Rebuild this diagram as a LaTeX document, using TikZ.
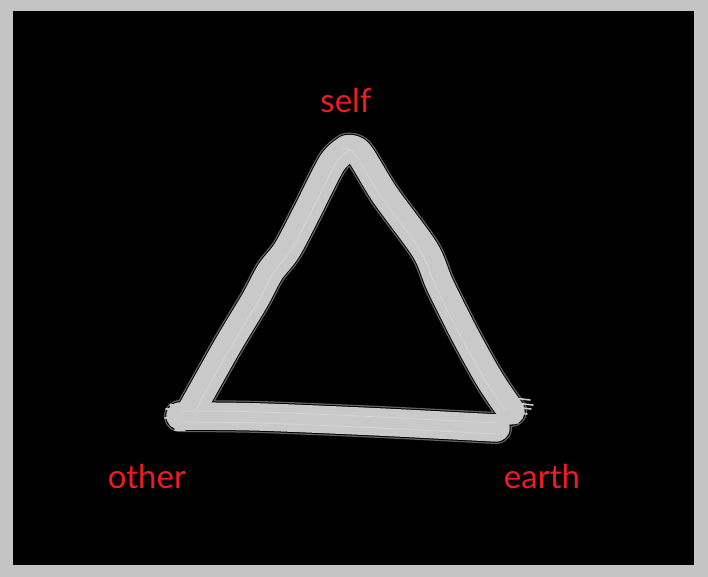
\documentclass[tikz,border=0pt]{standalone}
\usepackage{fontspec}
\setmainfont{Lato}
\definecolor{frame}{RGB}{196,196,196}
\definecolor{brush}{RGB}{201,201,201}
\definecolor{brushedge}{RGB}{100,100,100}
\definecolor{labelred}{RGB}{237,28,36}
\tikzset{
  edgeline/.style={draw=brushedge,line width=32pt,line cap=round,line join=round},
  gapline/.style={draw=black,line width=29.5pt,line cap=round,line join=round},
  bodyline/.style={draw=brush,line width=27.5pt,line cap=round,line join=round},
  streak/.style={draw=white,opacity=0.25,line width=0.8pt},
  bristle/.style={draw=brush,line width=1.6pt,line cap=round},
  lbl/.style={text=labelred,font=\fontsize{33}{33}\selectfont,anchor=base,inner sep=0pt}
}
\def\Lpts{(191,411) (228,345) (255,300) (270,272) (287,250) (307,212) (332,163) (347,149)}
\def\Rpts{(347,149) (359,153) (385,195) (425,250) (440,285) (465,335) (490,380) (511,411)}
\def\Bpts{(180,416) (260,417) (380,422) (496,428)}
\begin{document}
\begin{tikzpicture}[x=1pt,y=-1pt]
\useasboundingbox (0,0) rectangle (708,577);
\fill[frame] (0,0) rectangle (708,577);
\fill[black] (13,11) rectangle (694,565);
% brush stroke triangle, layered
\foreach \st in {edgeline,gapline,bodyline}{
  \draw[\st] plot[smooth,tension=0.5] coordinates {\Lpts};
  \draw[\st] plot[smooth,tension=0.5] coordinates {\Rpts};
  \draw[\st] plot[smooth,tension=0.5] coordinates {\Bpts};
}
% streaks
\draw[streak,xshift=4pt] plot[smooth,tension=0.5] coordinates {\Lpts};
\draw[streak,xshift=-5pt] plot[smooth,tension=0.5] coordinates {\Rpts};
\draw[streak,yshift=-6pt] plot[smooth,tension=0.5] coordinates {\Bpts};
\draw[streak,yshift=5pt] plot[smooth,tension=0.5] coordinates {\Bpts};
% bristles at the stroke ends
\foreach \y/\x in {405/170,409/166,413/168,418/165,422/169,426/172,430/175}{
  \draw[bristle] (\x,\y) -- (185,\y);
}
\foreach \a/\b in {400/530,405/533,409/531,414/527,418/522,423/518}{
  \draw[bristle] (505,\a-3) -- (\b,\a);
}
% labels
\node[lbl] (self) at (346,113) {self};
\node[lbl] (other) at (147,488) {other};
\node[lbl] (earth) at (542,488) {earth};
\end{tikzpicture}
\end{document}
